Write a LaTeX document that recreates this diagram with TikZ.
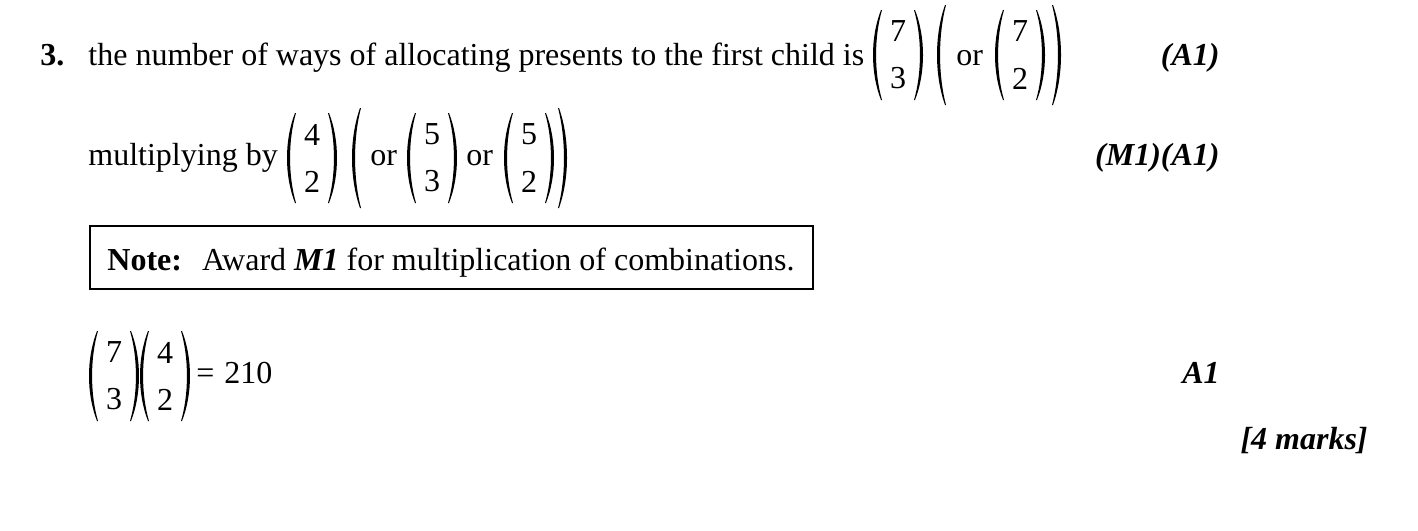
\documentclass[tikz,border=0pt]{standalone}
\usepackage{fontspec}
\setmainfont{Liberation Serif}
\newcommand\LP[3]{%
  \fill (#1+8,#2-#3) .. controls (#1-2.67,#2-#3*0.4) and (#1-2.67,#2+#3*0.4) .. (#1+8,#2+#3)
    -- (#1+9,#2+#3) .. controls (#1+1.07,#2+#3*0.4) and (#1+1.07,#2-#3*0.4) .. (#1+9,#2-#3) -- cycle;}
\newcommand\RP[3]{%
  \fill (#1-8,#2-#3) .. controls (#1+2.67,#2-#3*0.4) and (#1+2.67,#2+#3*0.4) .. (#1-8,#2+#3)
    -- (#1-9,#2+#3) .. controls (#1-1.07,#2+#3*0.4) and (#1-1.07,#2-#3*0.4) .. (#1-9,#2-#3) -- cycle;}
\newcommand\bnm[5]{%
  \LP{#2}{#3}{45}
  \node[dig] (#1t) at (#2+25,#3-23.5) {#4};
  \node[dig] (#1b) at (#2+25,#3+23.5) {#5};
  \RP{#2+50}{#3}{45}}
\tikzset{
  txt/.style={font=\fontsize{16}{19}\selectfont, inner sep=0pt, anchor=base west},
  num/.style={font=\fontsize{16}{19}\selectfont\bfseries, inner sep=0pt, anchor=base west},
  lbl/.style={font=\fontsize{16}{19}\selectfont\bfseries\itshape, inner sep=0pt, anchor=base east},
  dig/.style={font=\fontsize{16}{19}\selectfont, inner sep=0pt, anchor=center},
  boxline/.style={draw, line width=0.8pt}
}
\begin{document}
\begin{tikzpicture}[x=0.5pt,y=-0.5pt]
\useasboundingbox[fill=white] (0,0) rectangle (1418,530);
% line 1
\node[num] (q) at (40,65) {3.};
\node[txt] (l1) at (88,65) {the number of ways of allocating presents to the first child is};
\bnm{ba}{873}{55}{7}{3}
\LP{937}{55}{50}
\node[txt] (or1) at (956,65) {or};
\bnm{bb}{995}{55}{7}{2}
\RP{1061}{55}{50}
\node[lbl] (m1) at (1220,65) {(A1)};
% line 2
\node[txt] (l2) at (88,165) {multiplying by};
\bnm{bc}{287}{158}{4}{2}
\LP{352}{158}{50}
\node[txt] (or2) at (370,165) {or};
\bnm{bd}{407}{158}{5}{3}
\node[txt] (or3) at (466,165) {or};
\bnm{be}{504}{158}{5}{2}
\RP{567}{158}{50}
\node[lbl] (m2) at (1220,165) {(M1)(A1)};
% note box
\draw[boxline] (90,226) rectangle (813,289);
\node[txt] (note) at (107,270) {\textbf{Note:}\hspace{10pt}Award \textbf{\textit{M1}} for multiplication of combinations.};
% line 4
\bnm{bf}{89}{376}{7}{3}
\bnm{bg}{140}{376}{4}{2}
\node[txt] (eq) at (196,383) {=\hspace{5pt}210};
\node[lbl] (m3) at (1220,383) {A1};
\node[lbl] (m4) at (1368,449) {[4 marks]};
\end{tikzpicture}
\end{document}
